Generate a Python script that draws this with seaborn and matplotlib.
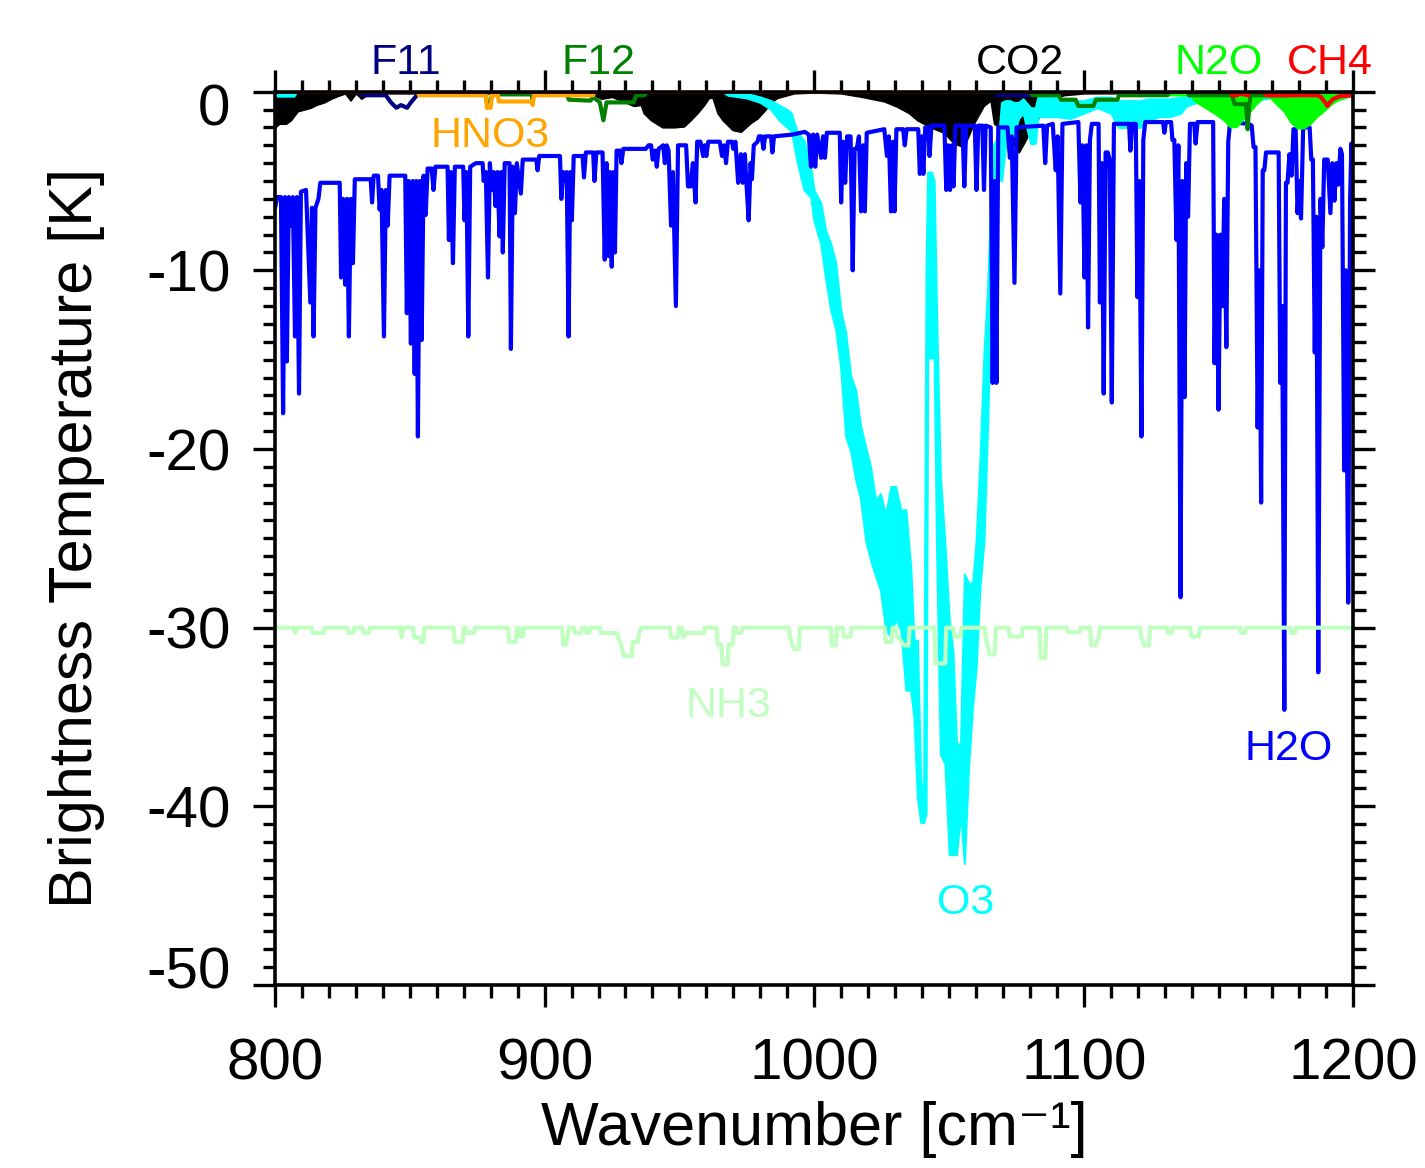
import matplotlib
matplotlib.use("Agg")
import matplotlib.pyplot as plt
from matplotlib.ticker import MultipleLocator
from matplotlib.transforms import ScaledTranslation
import seaborn as sns

# Brightness temperature change per gas

# H2O (line spectrum)
h2o_wn = [800.0, 800.8, 802.2, 803.0, 803.7, 804.4, 805.1, 805.9, 806.6, 807.4,
          808.1, 808.9, 809.6, 811.5, 813.1, 813.7, 814.3, 815.0, 816.1, 816.8,
          824.0, 824.5, 825.2, 826.0, 826.7, 827.4, 828.1, 828.9, 829.6, 835.5,
          836.0, 836.6, 838.2, 838.8, 839.5, 840.4, 841.1, 841.8, 842.5, 848.3,
          848.9, 849.6, 850.4, 851.1, 851.8, 852.4, 853.0, 853.7, 854.4, 855.1,
          855.9, 856.6, 858.1, 858.8, 859.5, 864.0, 864.5, 865.2, 866.0, 866.7,
          869.8, 870.3, 871.0, 871.7, 872.4, 874.5, 877.0, 877.4, 878.2, 879.0,
          879.7, 880.4, 881.1, 881.8, 882.5, 883.3, 883.9, 884.5, 885.2, 887.0,
          887.5, 888.2, 889.0, 889.7, 891.2, 891.9, 896.9, 897.4, 898.0, 905.7,
          906.2, 906.9, 907.6, 908.2, 908.9, 909.5, 910.1, 910.8, 914.1, 914.6,
          915.3, 918.0, 918.5, 919.2, 921.5, 922.3, 923.0, 923.7, 924.3, 924.9,
          925.5, 926.1, 926.7, 928.0, 928.5, 929.2, 937.5, 938.6, 939.5, 940.1,
          941.0, 941.6, 942.3, 944.0, 944.6, 945.3, 946.0, 946.9, 947.6, 948.7,
          949.5, 952.5, 953.2, 954.2, 955.0, 956.0, 956.6, 957.8, 958.8, 959.4,
          960.0, 960.7, 965.0, 965.8, 966.6, 967.3, 968.0, 969.5, 970.0, 970.8,
          971.8, 972.8, 973.5, 974.3, 974.9, 975.7, 976.4, 976.9, 977.6, 979.0,
          979.5, 980.5, 981.2, 981.8, 984.0, 984.5, 985.1, 992.0, 996.5, 998.0,
          998.8, 999.6, 1000.4, 1001.1, 1002.6, 1003.3, 1004.0, 1004.7, 1009.5, 1010.0,
          1010.7, 1011.5, 1012.2, 1013.5, 1014.3, 1015.0, 1015.8, 1016.6, 1017.4, 1018.2,
          1018.8, 1019.5, 1026.0, 1027.0, 1027.7, 1028.5, 1029.2, 1029.8, 1030.5, 1033.0,
          1033.6, 1034.3, 1038.6, 1039.2, 1039.9, 1040.5, 1041.2, 1042.4, 1042.8, 1043.5,
          1048.3, 1049.0, 1049.7, 1050.4, 1051.1, 1051.7, 1052.4, 1055.0, 1055.7, 1056.4,
          1059.6, 1060.2, 1060.9, 1062.4, 1063.0, 1063.6, 1065.5, 1066.2, 1067.0, 1067.6,
          1068.3, 1071.7, 1072.6, 1073.3, 1074.3, 1075.1, 1085.0, 1085.7, 1086.4, 1088.5,
          1089.6, 1090.3, 1091.3, 1092.1, 1098.0, 1098.8, 1099.5, 1100.3, 1101.0, 1101.6,
          1102.3, 1103.0, 1105.5, 1106.0, 1106.7, 1107.4, 1108.1, 1108.9, 1109.6, 1110.4,
          1111.2, 1116.8, 1117.3, 1118.0, 1119.3, 1119.9, 1120.6, 1121.4, 1122.1, 1122.8,
          1129.4, 1129.9, 1130.5, 1132.4, 1132.9, 1133.6, 1134.4, 1135.1, 1135.9, 1136.6,
          1137.4, 1138.0, 1138.7, 1139.4, 1141.0, 1141.5, 1142.2, 1148.0, 1148.5, 1149.2,
          1150.0, 1150.7, 1151.4, 1152.1, 1152.9, 1153.6, 1154.3, 1161.0, 1162.3, 1163.0,
          1163.7, 1164.5, 1165.2, 1165.8, 1166.4, 1167.0, 1167.6, 1172.3, 1172.9, 1173.6,
          1174.4, 1175.0, 1175.6, 1176.3, 1177.1, 1177.8, 1178.6, 1179.3, 1179.9, 1180.6,
          1181.4, 1183.8, 1184.4, 1185.0, 1185.7, 1186.3, 1187.0, 1187.8, 1188.5, 1189.2,
          1190.5, 1191.5, 1192.2, 1193.0, 1193.7, 1194.4, 1195.2, 1195.8, 1196.6, 1197.2,
          1198.1, 1198.8, 1199.3, 1200.0]
h2o_bt = [-6.5, -5.9, -5.9, -18.0, -5.9, -15.1, -5.9, -7.5, -5.9, -13.7,
          -5.9, -16.9, -5.6, -5.5, -11.8, -6.5, -13.7, -6.5, -6.0, -5.1,
          -5.1, -10.4, -6.0, -10.8, -6.0, -13.7, -6.0, -9.6, -4.9, -4.9,
          -6.2, -4.7, -4.7, -6.6, -5.5, -13.7, -5.5, -7.5, -4.7, -4.7,
          -12.4, -5.0, -14.1, -5.0, -15.8, -5.0, -19.3, -5.0, -13.9, -4.7,
          -6.9, -4.3, -4.3, -5.5, -4.2, -4.2, -8.3, -4.5, -9.6, -4.2,
          -4.2, -7.2, -4.5, -13.7, -4.2, -4.0, -4.0, -5.0, -4.5, -10.4,
          -4.0, -5.5, -4.5, -6.4, -4.5, -8.1, -4.5, -9.0, -4.0, -4.0,
          -14.4, -4.2, -6.8, -4.0, -5.7, -3.8, -3.8, -4.4, -3.6, -3.6,
          -6.0, -4.5, -5.0, -4.5, -13.7, -4.5, -7.2, -3.6, -3.6, -4.8,
          -3.4, -3.4, -5.0, -3.4, -3.4, -9.4, -4.0, -9.2, -4.5, -9.8,
          -4.5, -9.0, -3.3, -3.3, -4.0, -3.2, -3.2, -3.0, -3.0, -3.8,
          -3.3, -4.2, -3.2, -3.0, -4.0, -3.0, -3.3, -7.5, -4.5, -12.0,
          -3.0, -3.0, -5.3, -5.3, -4.0, -6.2, -2.8, -2.8, -3.6, -3.0,
          -3.6, -2.8, -2.8, -3.6, -3.0, -4.0, -2.8, -2.8, -3.2, -2.8,
          -5.1, -3.5, -5.1, -3.5, -5.2, -7.2, -4.0, -4.9, -3.0, -2.8,
          -2.5, -2.5, -3.2, -2.5, -2.5, -3.4, -2.5, -2.4, -2.25, -2.4,
          -4.2, -2.4, -4.2, -2.4, -3.7, -2.5, -3.7, -2.3, -2.3, -6.2,
          -2.8, -5.1, -2.5, -2.5, -10.0, -3.2, -3.2, -2.5, -6.7, -3.0,
          -6.7, -2.3, -2.1, -3.6, -2.5, -6.7, -2.8, -6.7, -2.1, -2.1,
          -3.0, -2.1, -2.1, -4.6, -2.5, -4.6, -2.0, -2.0, -3.6, -1.9,
          -1.9, -5.5, -3.0, -5.5, -3.0, -5.3, -1.9, -1.9, -5.3, -1.9,
          -1.9, -5.5, -1.9, -1.9, -5.5, -1.9, -2.0, -16.3, -5.0, -16.3,
          -2.0, -2.0, -3.7, -2.5, -10.7, -2.0, -1.9, -4.0, -1.9, -1.8,
          -4.4, -2.5, -11.3, -1.8, -1.7, -6.2, -3.0, -10.4, -3.0, -13.2,
          -2.7, -1.8, -1.8, -11.8, -4.0, -16.9, -3.4, -3.4, -3.8, -17.4,
          -1.8, -1.8, -3.3, -1.8, -1.8, -11.5, -5.0, -19.3, -2.7, -1.7,
          -1.7, -2.3, -1.7, -1.7, -2.7, -2.7, -8.3, -3.0, -28.3, -5.0,
          -17.1, -4.0, -7.0, -1.8, -1.8, -2.9, -1.7, -1.7, -15.2, -8.0,
          -17.8, -8.0, -12.0, -6.0, -14.3, -2.8, -1.7, -1.8, -1.9, -3.1,
          -3.1, -18.8, -10.0, -23.0, -4.4, -4.4, -3.4, -3.4, -16.3, -12.0,
          -34.6, -5.1, -5.1, -3.5, -4.7, -2.1, -2.1, -6.8, -5.0, -7.1,
          -2.0, -2.0, -3.8, -3.8, -14.6, -7.0, -32.5, -6.0, -8.7, -3.8,
          -3.8, -6.8, -4.0, -6.1, -4.0, -5.2, -3.2, -3.5, -21.2, -10.0,
          -28.6, -6.0, -2.9, -4.9]

# O3 (dense band, drawn as an envelope)
o3_wn = [800, 807, 808, 966, 968, 975, 980, 984, 987, 990,
         991.5, 993.8, 996.2, 998.7, 999.9, 1002.4, 1004.3, 1006.1, 1008.0, 1009.8,
         1011.7, 1013.5, 1015.4, 1017.2, 1019.1, 1020.9, 1022.8, 1024.6, 1026.5, 1028.4,
         1030.2, 1032.1, 1034.0, 1035.8, 1037.0, 1038.3, 1039.5, 1040.6, 1041.5, 1042.1,
         1043.5, 1044.5, 1045.4, 1046.8, 1048.5, 1050.1, 1051.5, 1052.8, 1054.3, 1055.7,
         1057.3, 1058.8, 1060.1, 1061.5, 1063.0, 1064.3, 1065.5, 1066.5, 1068.5, 1069.5,
         1071.0, 1072.5, 1074.0, 1075.8, 1077.5, 1080.3, 1082.0, 1083.0, 1090, 1095,
         1100, 1105, 1110, 1113, 1117, 1121, 1124, 1128, 1132, 1136,
         1138, 1142, 1150, 1160, 1164, 1170, 1180, 1190, 1195, 1200]
o3_hi = [-0.05, -0.05, 0, 0, -0.05, -0.1, -0.3, -0.5, -0.75, -1.0,
         -1.2, -2.3, -2.7, -4.2, -5.5, -6.2, -7.8, -8.5, -9.6, -12.2,
         -13.5, -15.9, -16.7, -18.7, -19.9, -21.0, -22.9, -22.5, -23.7, -22.1,
         -22.1, -23.4, -23.4, -26.6, -30.7, -30.7, -38.5, -39.5, -9.8, -4.5,
         -4.5, -5.0, -12.4, -21.5, -25.3, -29.6, -31.4, -36.5, -36.5, -27.0,
         -27.5, -27.5, -25.1, -20.6, -14.6, -11.1, -6.0, -3.0, -2.4, -0.6,
         -0.5, -0.5, -0.6, -0.6, -0.4, -0.9, -0.9, -0.3, -0.3, -0.5,
         -0.5, -0.3, -0.3, -0.5, -0.5, -0.5, -0.4, -0.4, -0.4, -0.3,
         -0.3, -0.3, -0.2, -0.2, -0.2, -0.1, -0.1, -0.1, -0.1, -0.1]
o3_lo = [-0.25, -0.25, 0, 0, -0.2, -0.35, -0.6, -1.0, -1.6, -2.0,
         -2.2, -4.0, -5.5, -5.9, -7.2, -8.5, -10.5, -12.2, -13.3, -15.4,
         -19.3, -20.1, -21.7, -22.8, -25.1, -26.2, -27.1, -27.9, -30.1, -30.5,
         -29.5, -30.1, -33.5, -33.5, -35.0, -39.5, -40.9, -40.9, -40.4, -14.9,
         -14.9, -14.9, -25.5, -37.1, -37.6, -42.7, -42.7, -42.7, -40.4, -43.2,
         -37.7, -34.3, -32.2, -27.7, -25.1, -18.8, -12.0, -6.0, -4.8, -5.0,
         -3.0, -2.5, -2.5, -1.5, -1.2, -2.9, -2.9, -1.4, -1.4, -1.5,
         -1.2, -0.9, -1.2, -2.0, -2.0, -2.0, -1.6, -1.4, -1.4, -1.2,
         -0.8, -0.6, -0.3, -0.5, -0.5, -0.3, -0.2, -0.3, -0.4, -0.2]

# CO2 (dense bands, lower envelope)
co2_wn = [800, 801.6, 804.1, 805.9, 808.4, 810.9, 813.3, 815.2, 818.3, 820.8,
          823.2, 826, 828, 830, 832, 835, 917, 921, 925, 930,
          933, 935.7, 936.7, 939.4, 943.7, 948, 951.7, 954.2, 956.7, 959.2,
          961, 962.3, 964.1, 966, 969.7, 972.8, 976.5, 979, 982, 983.9,
          986.4, 992.5, 1000, 1010, 1017.9, 1026, 1030.8, 1035.1, 1038.2, 1043.2,
          1048.1, 1051.8, 1055.5, 1059.2, 1062.9, 1065.4, 1066.7, 1070.4, 1072.8, 1075.9,
          1077.8, 1080.3, 1082.7, 1085.2, 1087.7, 1092.6, 1100, 1200]
co2_bt = [-2.0, -1.8, -1.8, -1.6, -1.1, -1.0, -0.9, -0.75, -0.6, -0.4,
          -0.25, -0.1, -0.5, -0.1, -0.4, -0.1, -0.1, -0.4, -0.3, -0.6,
          -0.8, -0.75, -1.2, -1.6, -2.0, -2.0, -1.95, -1.6, -1.2, -0.75,
          -0.35, -0.35, -1.2, -1.6, -2.15, -2.25, -1.75, -1.5, -1.0, -0.6,
          -0.35, -0.1, -0.05, -0.1, -0.3, -0.55, -0.85, -1.2, -1.6, -2.0,
          -2.3, -2.9, -3.1, -1.8, -0.8, -0.5, -1.8, -2.15, -2.7, -3.4,
          -2.9, -2.15, -1.6, -1.0, -0.5, -0.2, -0.1, -0.05]

# N2O (two bands near 1150 and 1180)
n2o_wn = [1128, 1130, 1139.6, 1140.8, 1144.5, 1148.2, 1151.9, 1154.4, 1156.9, 1159.3,
          1161.8, 1164.3, 1166.7, 1169.2, 1171.7, 1174.2, 1176.6, 1179.1, 1181.6, 1184.1,
          1186.5, 1189.0, 1191.5, 1193.9, 1197.6, 1200]
n2o_bt = [0, -0.2, -0.2, -0.5, -0.85, -1.2, -1.6, -2.0, -1.95, -1.5,
          -1.1, -0.65, -0.3, -0.35, -0.75, -1.1, -1.7, -2.05, -2.05, -1.8,
          -1.4, -1.1, -0.75, -0.5, -0.3, -0.2]

# weak absorbers along the top
f11_wn = [800, 832, 832.5, 841.1, 843, 845, 846.7, 849, 850.4, 852.9,
          853.5, 1067.5, 1068, 1081, 1081.5, 1090.3, 1090.7, 1091.1, 1200]
f11_bt = [0, 0, -0.2, -0.2, -0.6, -0.9, -0.75, -0.9, -0.6, -0.15,
          0, 0, -0.2, -0.2, 0, 0, -0.2, 0, 0]

f12_wn = [800, 876, 876.5, 878.2, 878.6, 880.0, 880.4, 884.0, 894.0, 895.2,
          895.6, 896.0, 897, 908, 909, 917, 918, 920.5, 921.8, 923,
          925, 933, 934, 937, 938, 1080, 1081, 1090.7, 1091.5, 1097,
          1098, 1103.6, 1104.5, 1112.5, 1113, 1131, 1132, 1138.5, 1139, 1155,
          1156, 1160.2, 1160.8, 1161.4, 1162, 1176, 1176.5, 1200]
f12_bt = [0, 0, -0.15, -0.15, -0.6, -0.6, -0.15, -0.15, -0.15, -0.15,
          -0.5, -0.15, 0, 0, -0.45, -0.5, -0.3, -0.6, -1.6, -0.6,
          -0.6, -0.6, -0.2, -0.2, 0, 0, -0.2, -0.2, -0.45, -0.45,
          -0.8, -0.8, -0.45, -0.45, -0.2, -0.2, 0, 0, -0.2, -0.2,
          -0.7, -0.7, -2.1, -0.7, -0.2, -0.2, 0, 0]

hno3_wn = [853, 853.4, 878.2, 878.6, 880.0, 880.4, 882.7, 883.0, 895.2, 895.6,
           896.0, 918.0, 918.5]
hno3_bt = [0, -0.2, -0.2, -0.9, -0.9, -0.2, -0.2, -0.55, -0.55, -0.75,
           -0.2, -0.2, 0]

ch4_wn = [800, 1154.5, 1155, 1157, 1157.5, 1161, 1161.5, 1167, 1167.5, 1173.7,
          1176, 1186.6, 1188, 1189.5, 1190.4, 1191.3, 1192.6, 1195, 1200]
ch4_bt = [0, 0, -0.2, -0.2, -0.1, -0.2, 0, 0, -0.2, -0.2,
          -0.2, -0.2, -0.3, -0.6, -0.8, -0.6, -0.4, -0.25, -0.2]

# NH3 is shown shifted down by 30 K
NH3_OFFSET = -30
nh3_wn = [800, 806.8, 807.4, 808.2, 813.6, 814.0, 818.0, 818.4, 826.8, 827.2,
          829.0, 829.4, 832.4, 832.8, 834.8, 835.2, 846.5, 847.0, 847.6, 851.2,
          851.6, 853.8, 854.2, 855.0, 855.4, 866.3, 866.7, 869.6, 870.0, 870.8,
          871.2, 873.8, 874.2, 886.5, 886.9, 889.3, 889.7, 890.6, 891.0, 892.0,
          892.4, 906.5, 906.9, 908.0, 908.6, 909.0, 910.8, 911.2, 913.4, 913.8,
          915.1, 915.5, 916.5, 916.9, 920.6, 921.0, 926.8, 927.3, 928.4, 929.4,
          932.3, 932.7, 934.6, 935.0, 936.0, 946.5, 946.9, 949.4, 949.8, 951.0,
          951.4, 952.4, 959.1, 959.5, 963.8, 964.2, 965.6, 966.0, 967.9, 968.3,
          969.8, 970.2, 971.0, 971.4, 973.0, 973.4, 990.6, 991.0, 992.4, 994.3,
          994.7, 1006.2, 1006.5, 1008.0, 1008.4, 1010.6, 1011.0, 1013.5, 1013.9, 1026.2,
          1026.5, 1028.7, 1029.1, 1030.4, 1030.8, 1033.5, 1035.0, 1035.4, 1044.6, 1045.0,
          1048.6, 1049.0, 1051.6, 1052.0, 1054.3, 1054.7, 1063.2, 1063.6, 1065.0, 1067.0,
          1067.4, 1072.1, 1072.5, 1077.0, 1077.4, 1083.6, 1084.0, 1085.7, 1086.1, 1093.8,
          1094.2, 1098.4, 1098.8, 1102.4, 1102.8, 1104.3, 1105.6, 1106.0, 1121.0, 1121.3,
          1122.5, 1124.2, 1124.6, 1131.0, 1131.3, 1132.7, 1133.1, 1139.5, 1139.9, 1142.7,
          1143.1, 1158.0, 1158.4, 1159.8, 1160.2, 1176.7, 1177.0, 1178.3, 1178.7, 1200]
nh3_rel = [0, 0, -0.3, 0, 0, -0.3, -0.3, 0, 0, -0.3,
           -0.3, 0, 0, -0.3, -0.3, 0, 0, -0.55, 0, 0,
           -0.55, -0.55, -0.8, -0.8, 0, 0, -0.8, -0.8, 0, 0,
           -0.3, -0.3, 0, 0, -0.8, -0.8, 0, 0, -0.5, -0.5,
           0, 0, -0.95, -0.95, -0.5, 0, 0, -0.3, -0.3, 0,
           0, -0.3, -0.3, 0, 0, -0.3, -0.3, -0.55, -0.95, -1.6,
           -1.6, -0.8, -0.8, -0.3, 0, 0, -0.55, -0.55, 0, 0,
           -0.55, -0.3, -0.3, 0, 0, -0.95, -0.95, -2.05, -2.05, -0.95,
           -0.95, 0, 0, -0.3, -0.3, 0, 0, -0.5, -1.2, -1.2,
           0, 0, -1.0, -1.0, 0, 0, -0.5, -0.5, 0, 0,
           -0.8, -0.8, 0, 0, -0.5, -1.0, -1.0, 0, 0, -2.0,
           -2.0, 0, 0, -0.5, -0.5, 0, 0, -0.5, -1.5, -1.5,
           0, 0, -0.5, -0.5, 0, 0, -1.7, -1.7, 0, 0,
           -0.26, -0.26, 0, 0, -1.0, -1.0, -0.5, 0, 0, -0.5,
           -1.0, -1.0, 0, 0, -0.3, -0.3, 0, 0, -0.5, -0.5,
           0, 0, -0.3, -0.3, 0, 0, -0.3, -0.3, 0, 0]

for a, b in [(h2o_wn, h2o_bt), (o3_wn, o3_hi), (o3_wn, o3_lo), (co2_wn, co2_bt),
             (n2o_wn, n2o_bt), (f11_wn, f11_bt), (f12_wn, f12_bt),
             (hno3_wn, hno3_bt), (ch4_wn, ch4_bt), (nh3_wn, nh3_rel)]:
    assert len(a) == len(b), (len(a), len(b))

# colours of the original plot
BLUE = "#0000ff"
CYAN = "#00ffff"
NAVY = "#000080"
GREEN = "#008000"
LIME = "#00ff00"
RED = "#ff0000"
ORANGE = "#ffa500"
PALE = "#c1ffc1"
LW = 3.0

sns.set_theme(style="ticks", rc={"axes.edgecolor": "black", "xtick.color": "black",
                                 "ytick.color": "black", "text.color": "black",
                                 "axes.labelcolor": "black"})
plt.rcParams["font.family"] = ["Liberation Sans", "DejaVu Sans"]
plt.rcParams["axes.unicode_minus"] = False

fig = plt.figure(figsize=(14.25, 11.68), dpi=100)
ax = fig.add_axes([0.193, 0.1567, 0.9497 - 0.193, 0.9215 - 0.1567])

ax.fill_between(co2_wn, co2_bt, 0, color="black", lw=1.0, zorder=2)
ax.fill_between(o3_wn, o3_lo, o3_hi, color=CYAN, lw=1.5, zorder=3)
sns.lineplot(x=h2o_wn, y=h2o_bt, estimator=None, sort=False, color=BLUE, lw=LW,
             ax=ax, zorder=4)
nh3_bt = [NH3_OFFSET + v for v in nh3_rel]
sns.lineplot(x=nh3_wn, y=nh3_bt, estimator=None, sort=False, color=PALE, lw=LW,
             ax=ax, zorder=5)
ax.fill_between(n2o_wn, n2o_bt, 0, color=LIME, lw=1.0, zorder=6)
for wn, bt, c in [(f11_wn, f11_bt, NAVY), (f12_wn, f12_bt, GREEN),
                  (hno3_wn, hno3_bt, ORANGE), (ch4_wn, ch4_bt, RED)]:
    sns.lineplot(x=wn, y=bt, estimator=None, sort=False, color=c, lw=LW, ax=ax, zorder=7)

ax.set_xlim(800, 1200)
ax.set_ylim(-50, 0)
ax.xaxis.set_major_locator(MultipleLocator(100))
ax.xaxis.set_minor_locator(MultipleLocator(10))
ax.yaxis.set_major_locator(MultipleLocator(10))
ax.yaxis.set_minor_locator(MultipleLocator(1))
ax.tick_params(which="both", direction="out", top=True, right=True, width=2.4,
               color="black", labelsize=42)
ax.tick_params(which="major", length=16)
ax.tick_params(which="minor", length=9)
ax.tick_params(axis="x", pad=22)
ax.tick_params(axis="y", pad=16)
for s in ax.spines.values():
    s.set_linewidth(2.6)
    s.set_zorder(10)

ax.set_xlabel("Wavenumber [cm\u207b\u00b9]", fontsize=44, va="center")
ax.xaxis.set_label_coords(0.5, -0.162)
ax.set_ylabel("Brightness Temperature [K]", fontsize=44, va="center")
ax.yaxis.set_label_coords(-0.184, 0.5)

# gas names
lab_kw = dict(fontsize=31, ha="center", va="baseline", clip_on=False, zorder=12)
ax.text(848.6, 0.98, "F11", color=NAVY, **lab_kw)
ax.text(920.1, 0.98, "F12", color=GREEN, **lab_kw)
ax.text(1076.2, 0.98, "CO2", color="black", **lab_kw)
ax.text(1150.0, 0.98, "N2O", color=LIME, **lab_kw)
ax.text(1191.1, 0.98, "CH4", color=RED, **lab_kw)
ax.text(879.7, -3.1, "HNO3", color=ORANGE, **lab_kw)
ax.text(968.3, -35.0, "NH3", color=PALE, **lab_kw)
ax.text(1056.2, -46.0, "O3", color=CYAN, **lab_kw)
ax.text(1175.9, -37.4, "H2O", color=BLUE, **lab_kw)

# end labels of the y axis sit inside the frame, as in the original
fig.canvas.draw()
for lab in ax.get_yticklabels():
    t = lab.get_text()
    if t == "0":
        lab.set_transform(lab.get_transform() + ScaledTranslation(0, -0.13, fig.dpi_scale_trans))
    elif t == "-50":
        lab.set_transform(lab.get_transform() + ScaledTranslation(0, 0.17, fig.dpi_scale_trans))

fig.savefig("out.png", dpi=100, facecolor="white")
